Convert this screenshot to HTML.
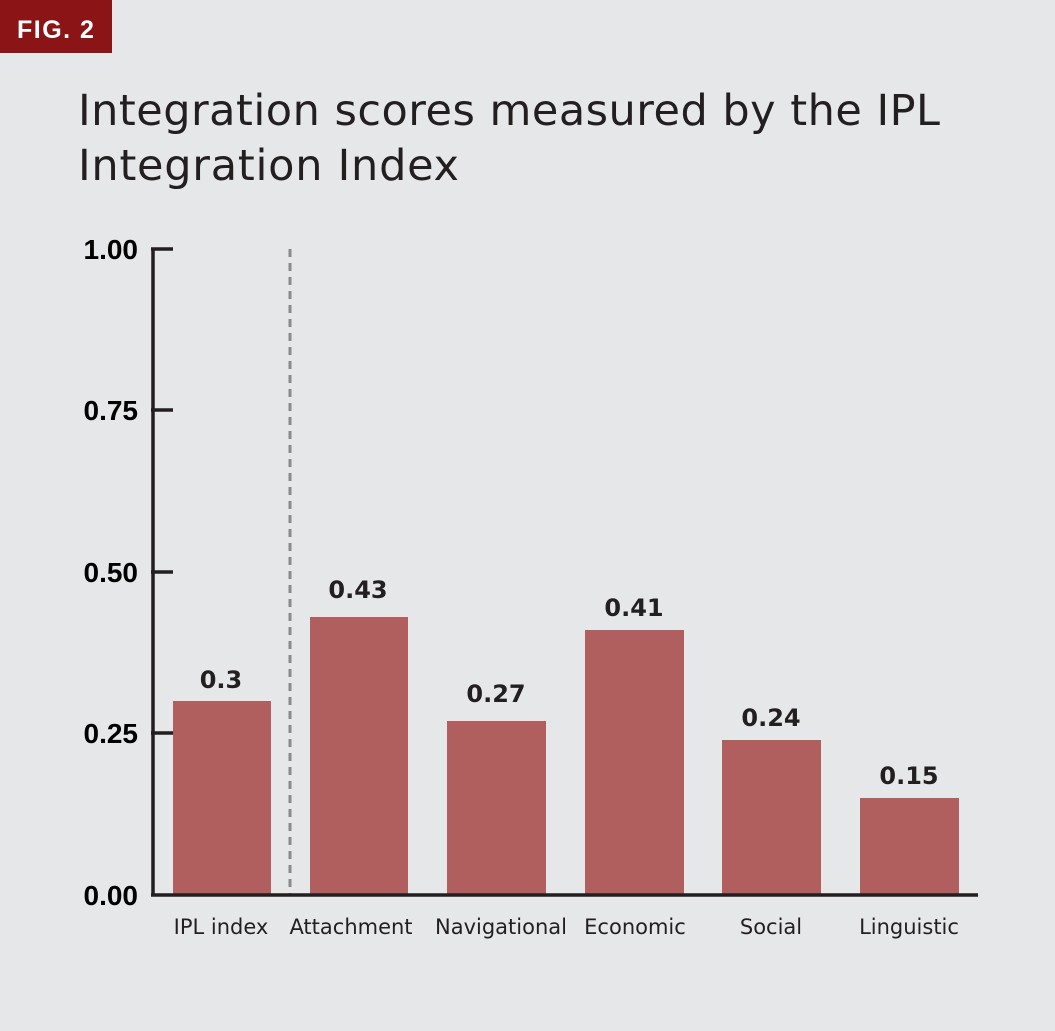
<!DOCTYPE html>
<html><head><meta charset="utf-8"><style>
body{margin:0;width:1055px;height:1031px;background:#e6e7e9;overflow:hidden;font-family:"Liberation Sans",sans-serif}
</style></head><body>
<svg width="1055" height="1031" xmlns="http://www.w3.org/2000/svg" style="position:absolute;left:0;top:0">
<rect x="0" y="0" width="1055" height="1031" fill="#e6e7e9"/>
<rect x="0" y="0" width="112" height="53" fill="#8b1516"/>
<text x="17" y="38" font-size="25" font-weight="bold" fill="#fff" letter-spacing="1.5" font-family="Liberation Sans">FIG. 2</text>
<text x="78" y="125" font-size="43" fill="#231f20" font-family="DejaVu Sans" textLength="862">Integration scores measured by the IPL</text>
<text x="78" y="180" font-size="43" fill="#231f20" font-family="DejaVu Sans" textLength="381">Integration Index</text>
<g fill="#b05f5e">
<rect x="173" y="701" width="98" height="194"/>
<rect x="310" y="617" width="98" height="278"/>
<rect x="447" y="721" width="99" height="174"/>
<rect x="585" y="630" width="99" height="265"/>
<rect x="722" y="740" width="99" height="155"/>
<rect x="860" y="798" width="99" height="97"/>
</g>
<line x1="290" y1="249" x2="290" y2="895" stroke="#8a8a8a" stroke-width="3" stroke-dasharray="8,6"/>
<g stroke="#231f20" stroke-width="3.5">
<line x1="153" y1="248" x2="153" y2="896"/>
<line x1="151" y1="895" x2="978" y2="895"/>
<line x1="151" y1="249" x2="173" y2="249"/>
<line x1="151" y1="410" x2="173" y2="410"/>
<line x1="151" y1="572" x2="173" y2="572"/>
<line x1="151" y1="733" x2="173" y2="733"/>
</g>
<g font-size="28" font-weight="bold" fill="#000" text-anchor="end" font-family="Liberation Sans">
<text x="138" y="259">1.00</text>
<text x="138" y="420">0.75</text>
<text x="138" y="582">0.50</text>
<text x="138" y="743">0.25</text>
<text x="138" y="905">0.00</text>
</g>
<g font-size="24" font-weight="bold" fill="#231f20" text-anchor="middle" font-family="DejaVu Sans">
<text x="221" y="688">0.3</text>
<text x="358" y="598">0.43</text>
<text x="496" y="702">0.27</text>
<text x="634" y="616">0.41</text>
<text x="771" y="726">0.24</text>
<text x="909" y="784">0.15</text>
</g>
<g font-size="21" fill="#231f20" text-anchor="middle" font-family="DejaVu Sans">
<text x="221" y="934">IPL index</text>
<text x="351" y="934">Attachment</text>
<text x="501" y="934">Navigational</text>
<text x="635" y="934">Economic</text>
<text x="771" y="934">Social</text>
<text x="909" y="934">Linguistic</text>
</g>
</svg>
</body></html>
